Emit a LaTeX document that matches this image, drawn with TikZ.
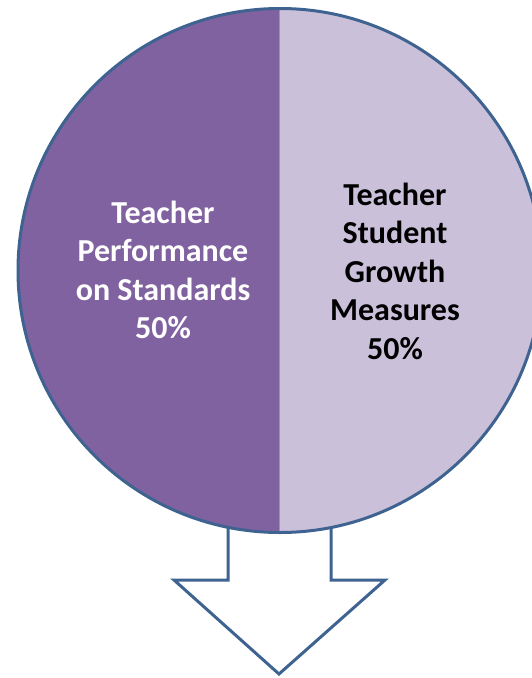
\documentclass[tikz,border=0pt]{standalone}
\usepackage{fontspec}
\setmainfont{Carlito}
\definecolor{darkpurple}{HTML}{8062A0}
\definecolor{lightpurple}{HTML}{CBC0DA}
\definecolor{edgeblue}{HTML}{3F6391}
\begin{document}
\begin{tikzpicture}[x=1pt,y=-1pt,
  edge/.style={draw=edgeblue,line width=3pt},
  label/.style={align=center,font=\fontsize{32}{38.5}\selectfont\bfseries,inner sep=0pt}]
\useasboundingbox (0,0) rectangle (531,678);
% arrow
\draw[edge,fill=white,line join=miter] (228,500) -- (228,580) -- (174,580) -- (279,674) -- (385,580) -- (331,580) -- (331,500) -- cycle;
% circle halves
\coordinate (c) at (280,270.5);
\begin{scope}
  \clip (c) circle[radius=262];
  \fill[darkpurple] (0,0) rectangle (279.5,678);
  \fill[lightpurple] (279.5,0) rectangle (600,678);
  \draw[color=darkpurple!55!lightpurple,line width=1pt] (279.5,0) -- (279.5,678);
\end{scope}
\draw[edge] (c) circle[radius=262];
% texts
\node[label,text=white] (left) at (163,270) {Teacher\\Performance\\on Standards\\50\%};
\node[label,text=black] (right) at (395,271) {Teacher\\Student\\Growth\\Measures\\50\%};
\end{tikzpicture}
\end{document}
